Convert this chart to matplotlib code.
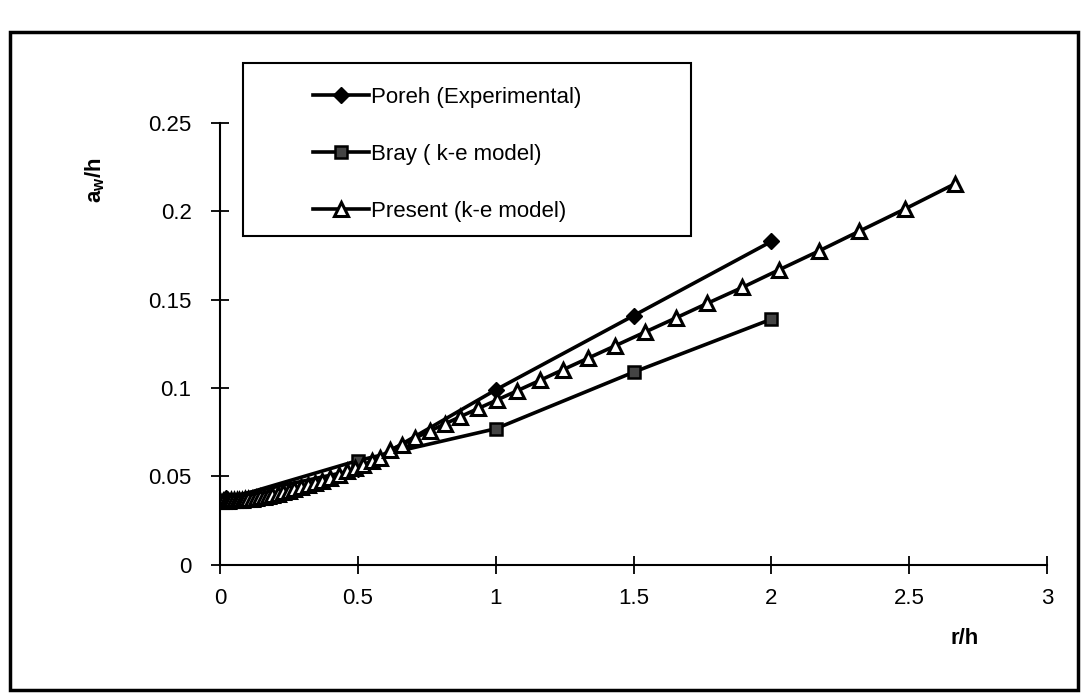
## a_w/h versus r/h: experimental data against two k-e model results

import matplotlib.pyplot as plt
from matplotlib.patches import Rectangle

plt.rcParams['font.family'] = ['Liberation Sans', 'DejaVu Sans']

# Poreh (Experimental)
poreh_x = [0.02, 0.5, 1.0, 1.5, 2.0]
poreh_y = [0.038, 0.054, 0.099, 0.141, 0.183]

# Bray ( k-e model)
bray_x = [0.0, 0.5, 1.0, 1.5, 2.0]
bray_y = [0.036, 0.059, 0.077, 0.109, 0.139]

# Present (k-e model)
present_x = [0.0, 0.01, 0.02, 0.03, 0.04, 0.05, 0.06, 0.07, 0.08, 0.09, 0.10,
             0.115, 0.13, 0.145, 0.16, 0.175, 0.19, 0.21, 0.23, 0.25, 0.27,
             0.295, 0.32, 0.345, 0.37, 0.40, 0.43, 0.46, 0.49, 0.52, 0.55,
             0.58, 0.617, 0.66, 0.708, 0.762, 0.817, 0.871, 0.937, 1.005,
             1.078, 1.162, 1.245, 1.336, 1.434, 1.543, 1.652, 1.768, 1.895,
             2.026, 2.171, 2.319, 2.486, 2.664]
present_y = [0.036, 0.036, 0.0362, 0.0363, 0.0364, 0.0365, 0.0366, 0.0367,
             0.0368, 0.037, 0.0372, 0.0375, 0.0378, 0.0382, 0.0386, 0.039,
             0.0395, 0.0402, 0.041, 0.0418, 0.0427, 0.0438, 0.045, 0.0463,
             0.0476, 0.0492, 0.051, 0.0528, 0.0547, 0.0566, 0.0586, 0.0607,
             0.065, 0.068, 0.0718, 0.0758, 0.0798, 0.0838, 0.0885, 0.0933,
             0.0985, 0.1045, 0.1105, 0.117, 0.124, 0.1318, 0.1396, 0.148,
             0.157, 0.1668, 0.1775, 0.1888, 0.2015, 0.2155]

x_ticks = [0, 0.5, 1, 1.5, 2, 2.5, 3]
x_ticklabels = ['0', '0.5', '1', '1.5', '2', '2.5', '3']
y_ticks = [0, 0.05, 0.1, 0.15, 0.2, 0.25]
y_ticklabels = ['0', '0.05', '0.1', '0.15', '0.2', '0.25']

fig = plt.figure(figsize=(10.84, 6.99), dpi=100)
ax = fig.add_axes([0.203, 0.192, 0.763, 0.632])

ax.plot(poreh_x, poreh_y, color='black', lw=2.6, marker='D', ms=8.5,
        mfc='black', mec='black', label='Poreh (Experimental)')
ax.plot(bray_x, bray_y, color='black', lw=2.6, marker='s', ms=9,
        mfc='#444444', mec='black', mew=1.8, label='Bray ( k-e model)')
ax.plot(present_x, present_y, color='black', lw=2.6, marker='^', ms=9.5,
        mfc='white', mec='black', mew=2.2, label='Present (k-e model)')

# Axes
ax.set_xlim(0, 3)
ax.set_ylim(0, 0.25)
ax.set_xticks(x_ticks)
ax.set_xticklabels(x_ticklabels)
ax.set_yticks(y_ticks)
ax.set_yticklabels(y_ticklabels)
ax.spines['top'].set_visible(False)
ax.spines['right'].set_visible(False)
ax.spines['left'].set_linewidth(1.5)
ax.spines['bottom'].set_linewidth(1.5)
ax.tick_params(direction='inout', length=13, width=1.3, labelsize=16)
ax.tick_params(axis='y', pad=14)
ax.tick_params(axis='x', pad=10)

# Axis titles (Excel style placement)
fig.text(95 / 1084, 1 - 180 / 699, r'a$_\mathregular{w}$/h', rotation=90,
         ha='center', va='center', fontsize=16, fontweight='bold')
fig.text(965 / 1084, 1 - 638 / 699, 'r/h', ha='center', va='center',
         fontsize=16, fontweight='bold')

# Legend with its own box
fig.add_artist(Rectangle((243 / 1084, 1 - 236 / 699), 448 / 1084, 173 / 699,
                         transform=fig.transFigure, fill=False,
                         edgecolor='black', lw=1.5))
ax.legend(loc='upper left', bbox_to_anchor=(302 / 1084, 1 - 76 / 699),
          bbox_transform=fig.transFigure, frameon=False, fontsize=16,
          handlelength=2.5, handletextpad=0.1, labelspacing=1.62,
          borderpad=0)

# Outer chart border
fig.add_artist(Rectangle((10 / 1084, 1 - 690 / 699), 1068 / 1084, 658 / 699,
                         transform=fig.transFigure, fill=False,
                         edgecolor='black', lw=2.5))

plt.savefig('out.png', dpi=100)
